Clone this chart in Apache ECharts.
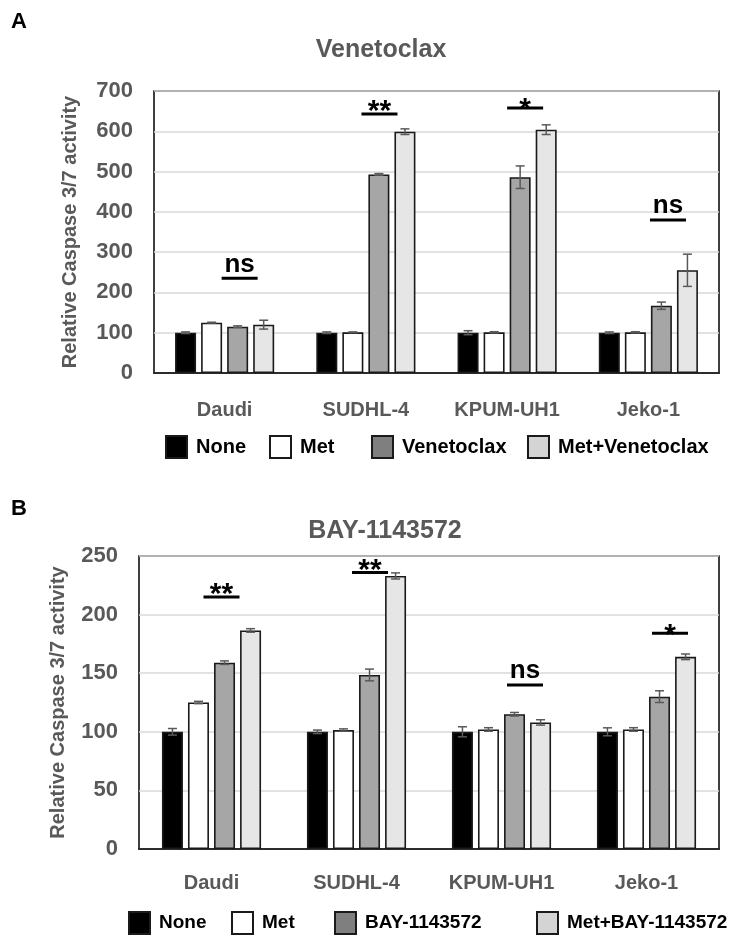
<!DOCTYPE html>
<html>
<head>
<meta charset="utf-8">
<script src="https://cdn.jsdelivr.net/npm/echarts@6/dist/echarts.min.js"></script>
<style>
html,body{margin:0;padding:0;background:#fff;}
#chart{width:733px;height:938px;}
</style>
</head>
<body>
<div id="chart"></div>
<script>
// ---------- data ----------
const categories = ['Daudi', 'SUDHL-4', 'KPUM-UH1', 'Jeko-1'];

// Panel A (Venetoclax)
const namesA = ['None', 'Met', 'Venetoclax', 'Met+Venetoclax'];
const a_none      = [100, 100, 100, 100];
const a_none_err  = [2, 2, 5, 2];
const a_met       = [125, 101, 101, 101];
const a_met_err   = [1, 1, 1.5, 1.5];
const a_ven       = [115, 493, 486, 167];
const a_ven_err   = [2, 2, 28, 9];
const a_metven    = [120, 599, 604, 255];
const a_metven_err= [11, 7, 12, 40];
const a_ticks = [0, 100, 200, 300, 400, 500, 600, 700];
const a_sig      = ['ns', '**', '*', 'ns'];
const a_sig_y    = [235, 643, 658, 380];

// Panel B (BAY-1143572)
const namesB = ['None', 'Met', 'BAY-1143572', 'Met+BAY-1143572'];
const b_none      = [100, 100, 100, 100];
const b_none_err  = [2.8, 1.5, 4.3, 3.4];
const b_met       = [125, 101.5, 102, 102];
const b_met_err   = [1, 1, 1.5, 1.5];
const b_bay       = [159, 148.5, 115, 130];
const b_bay_err   = [1.5, 5, 1.5, 5];
const b_metbay    = [186.5, 233, 108, 164];
const b_metbay_err= [1.5, 2.6, 2.3, 2.4];
const b_ticks = [0, 50, 100, 150, 200, 250];
const b_sig      = ['**', '**', 'ns', '*'];
const b_sig_y    = [215, 236, 140, 184];

// ---------- styling / layout ----------
const FONT = 'Liberation Sans, Arial, sans-serif';
const GRAY_TXT = '#595959';
const barFill = ['#000000', '#ffffff', '#a6a6a6', '#e6e6e6'];
const legendFill = ['#000000', '#ffffff', '#7f7f7f', '#d4d4d4'];
const BAR_W = 21;
const BAR_GAP = 0.24;
const PITCH = BAR_W * (1 + BAR_GAP);
const sigOffA = [15, 13.6, 18, 19.6];
const sigOffB = [10, 13.5, 23.5, 23.5];

const chart = echarts.init(document.getElementById('chart'), null, {renderer: 'canvas'});

function barSeries(name, vals, gi, idx) {
  return {
    type: 'bar', name: name, xAxisIndex: gi, yAxisIndex: gi,
    data: vals, barWidth: BAR_W, barGap: (BAR_GAP * 100) + '%',
    itemStyle: {color: barFill[idx], borderColor: '#1a1a1a', borderWidth: 1.6},
    emphasis: {disabled: true}, animation: false, z: 2
  };
}

function errSeries(vals, errs, gi, idx) {
  const off = (idx - 1.5) * PITCH;
  return {
    type: 'custom', xAxisIndex: gi, yAxisIndex: gi, z: 5, animation: false, silent: true,
    data: vals.map((v, i) => [i, v, errs[i]]),
    renderItem: function (params, api) {
      const i = api.value(0), m = api.value(1), e = api.value(2);
      const t = api.coord([i, m + e]);
      const b = api.coord([i, m - e]);
      const x = t[0] + off;
      const st = {stroke: '#595959', lineWidth: 1.5, fill: null};
      return {type: 'group', children: [
        {type: 'line', shape: {x1: x, y1: t[1], x2: x, y2: b[1]}, style: st},
        {type: 'line', shape: {x1: x - 4.5, y1: t[1], x2: x + 4.5, y2: t[1]}, style: st},
        {type: 'line', shape: {x1: x - 4.5, y1: b[1], x2: x + 4.5, y2: b[1]}, style: st}
      ]};
    }
  };
}

function sigSeries(labels, ys, offs, gi) {
  return {
    type: 'custom', xAxisIndex: gi, yAxisIndex: gi, z: 6, animation: false, silent: true,
    data: ys.map((v, i) => [i, v]),
    renderItem: function (params, api) {
      const c = api.coord([api.value(0), api.value(1)]);
      const lab = labels[params.dataIndex];
      const x = c[0] + offs[params.dataIndex];
      const y = c[1];
      const star = lab.indexOf('*') >= 0;
      return {type: 'group', children: [
        {type: 'rect', shape: {x: x - 18, y: y - 1.5, width: 36, height: 3}, style: {fill: '#000'}},
        {type: 'text', x: x, y: star ? (lab === '*' ? y + 2 : y - 2) : y - 14,
          style: {text: lab, fill: '#000', align: 'center', verticalAlign: 'middle',
            font: star ? 'bold 30px ' + FONT : 'bold 26px ' + FONT}}
      ]};
    }
  };
}

function yAxis(gi, max, interval, nameGap) {
  return {
    type: 'value', gridIndex: gi, min: 0, max: max, interval: interval,
    name: 'Relative Caspase 3/7 activity', nameLocation: 'middle', nameGap: nameGap, nameRotate: 90,
    nameTextStyle: {fontFamily: FONT, fontWeight: 'bold', fontSize: 20, color: GRAY_TXT},
    axisLine: {show: false}, axisTick: {show: false},
    axisLabel: {fontFamily: FONT, fontWeight: 'bold', fontSize: 22, color: GRAY_TXT, margin: 21},
    splitLine: {show: true, lineStyle: {color: '#d9d9d9', width: 1.5}}
  };
}

function xAxis(gi, margin, fs) {
  return {
    type: 'category', gridIndex: gi, data: categories,
    axisLine: {show: true, lineStyle: {color: '#000', width: 1.5}}, axisTick: {show: false},
    axisLabel: {interval: 0, hideOverlap: false, fontFamily: FONT, fontWeight: 'bold', fontSize: fs, color: GRAY_TXT, margin: margin},
    splitLine: {show: false}
  };
}

function legends(names, lefts, top, fs) {
  return names.map((n, i) => ({
    data: [{name: n, itemStyle: {color: legendFill[i], borderColor: '#1a1a1a', borderWidth: 2}}],
    left: lefts[i], top: top, orient: 'horizontal', padding: 0,
    itemWidth: 21, itemHeight: 22, itemGap: 0, icon: 'rect', selectedMode: false,
    textStyle: {fontFamily: FONT, fontWeight: 'bold', fontSize: fs, color: '#000', padding: [0, 0, 0, 4]}
  }));
}

const option = {
  backgroundColor: '#fff',
  animation: false,
  title: [
    {text: 'A', left: 6, top: 6, textStyle: {fontFamily: FONT, fontWeight: 'bold', fontSize: 22, color: '#000'}},
    {text: 'Venetoclax', left: 376, top: 33, textAlign: 'center', textStyle: {fontFamily: FONT, fontWeight: 'bold', fontSize: 25, color: GRAY_TXT}},
    {text: 'B', left: 6, top: 493, textAlign: 'left', textStyle: {fontFamily: FONT, fontWeight: 'bold', fontSize: 22, color: '#000'}},
    {text: 'BAY-1143572', left: 380, top: 514, textAlign: 'center', textStyle: {fontFamily: FONT, fontWeight: 'bold', fontSize: 25, color: GRAY_TXT}}
  ],
  legend: [].concat(
    legends(namesA, [165, 269, 371, 527], 435, 20),
    legends(namesB, [128, 231, 334, 536], 911, 19)
  ),
  grid: [
    {left: 154, top: 91, width: 565, height: 282, show: true, borderColor: '#000', borderWidth: 1.5, backgroundColor: '#fff'},
    {left: 139, top: 556, width: 580, height: 293, show: true, borderColor: '#000', borderWidth: 1.5, backgroundColor: '#fff'}
  ],
  xAxis: [xAxis(0, 27, 20), xAxis(1, 24, 20)],
  yAxis: [yAxis(0, 700, 100, 74), yAxis(1, 250, 50, 71)],
  series: [
    barSeries(namesA[0], a_none, 0, 0),
    barSeries(namesA[1], a_met, 0, 1),
    barSeries(namesA[2], a_ven, 0, 2),
    barSeries(namesA[3], a_metven, 0, 3),
    errSeries(a_none, a_none_err, 0, 0),
    errSeries(a_met, a_met_err, 0, 1),
    errSeries(a_ven, a_ven_err, 0, 2),
    errSeries(a_metven, a_metven_err, 0, 3),
    sigSeries(a_sig, a_sig_y, sigOffA, 0),
    barSeries(namesB[0], b_none, 1, 0),
    barSeries(namesB[1], b_met, 1, 1),
    barSeries(namesB[2], b_bay, 1, 2),
    barSeries(namesB[3], b_metbay, 1, 3),
    errSeries(b_none, b_none_err, 1, 0),
    errSeries(b_met, b_met_err, 1, 1),
    errSeries(b_bay, b_bay_err, 1, 2),
    errSeries(b_metbay, b_metbay_err, 1, 3),
    sigSeries(b_sig, b_sig_y, sigOffB, 1)
  ]
};
chart.setOption(option);
</script>
</body>
</html>
